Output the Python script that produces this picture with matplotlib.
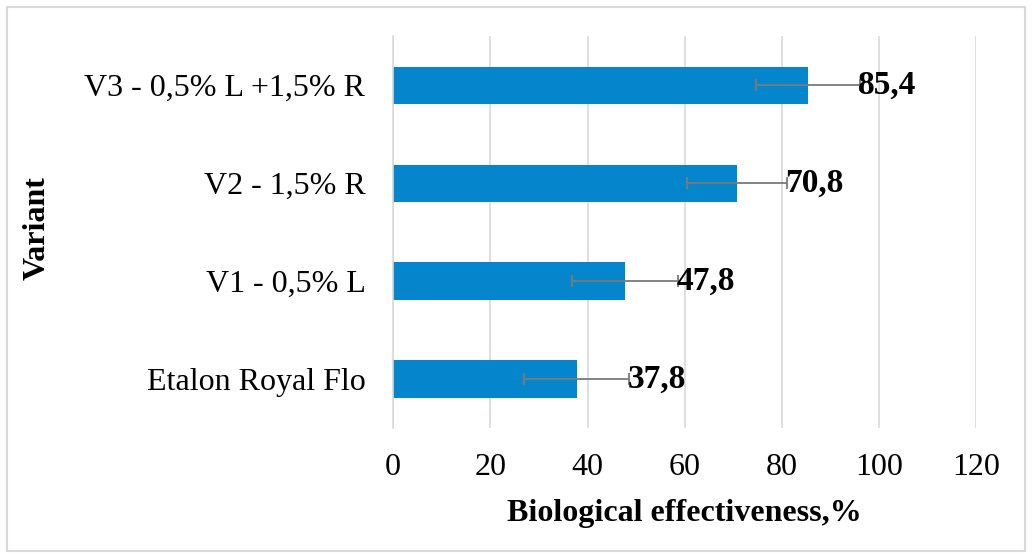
import matplotlib.pyplot as plt
from matplotlib.patches import Rectangle

# data
variants = ["Etalon Royal Flo", "V1 - 0,5% L", "V2 - 1,5% R", "V3 - 0,5% L +1,5% R"]
effectiveness = [37.8, 47.8, 70.8, 85.4]
errors = [10.8, 10.9, 10.3, 10.7]
value_labels = ["37,8", "47,8", "70,8", "85,4"]
x_ticks = [0, 20, 40, 60, 80, 100, 120]

BAR_COLOR = "#0585CB"
GRID_COLOR = "#D9D9D9"

plt.rcParams["font.family"] = ["Liberation Serif", "DejaVu Serif"]

fig = plt.figure(figsize=(10.32, 5.58), dpi=100)
ax = fig.add_axes([0.381, 0.233, 0.565, 0.702])

y = range(len(variants))
ax.barh(y, effectiveness, height=0.38, color=BAR_COLOR, zorder=2)
ax.errorbar(effectiveness, y, xerr=errors, fmt="none", ecolor="#7A7A7A",
            elinewidth=1.3, capsize=4, capthick=1.3, zorder=3)

for yi, v, e, lab in zip(y, effectiveness, errors, value_labels):
    ax.text(v + e - 0.4, yi, lab, ha="left", va="center",
            fontsize=24, fontweight="bold", color="black", zorder=4)

ax.set_xlim(0, 120)
ax.set_ylim(-0.5, len(variants) - 0.5)
ax.set_xticks(x_ticks)
ax.set_yticks(list(y))
ax.set_yticklabels(variants)
ax.tick_params(axis="both", length=0, labelsize=23, colors="black")
ax.tick_params(axis="x", pad=18)
ax.tick_params(axis="y", pad=20)

ax.xaxis.grid(True, color=GRID_COLOR, linewidth=1.2, zorder=0)
ax.set_axisbelow(True)
for side in ["top", "right", "bottom"]:
    ax.spines[side].set_visible(False)
ax.spines["left"].set_color(GRID_COLOR)
ax.spines["left"].set_linewidth(1.2)

ax.set_xlabel("Biological effectiveness,%", fontsize=23, fontweight="bold", labelpad=12)
ax.set_ylabel("Variant", fontsize=23, fontweight="bold")
ax.yaxis.set_label_coords(-0.585, 0.51)

# outer chart frame
fig.patches.append(Rectangle((0.007, 0.012), 0.986, 0.975, transform=fig.transFigure,
                             fill=False, edgecolor=GRID_COLOR, linewidth=1.5))

fig.savefig("out.png", dpi=100)
